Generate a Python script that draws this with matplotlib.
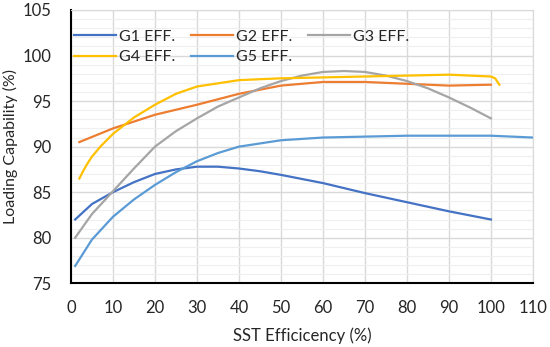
import matplotlib
matplotlib.use("Agg")
import matplotlib.pyplot as plt
from matplotlib.ticker import MultipleLocator

# %% Data
x_g1 = [1, 5, 10, 15, 20, 25, 30, 35, 40, 45, 50, 60, 70, 80, 90, 100]
g1 = [82.0, 83.7, 85.0, 86.1, 87.0, 87.5, 87.8, 87.8, 87.6, 87.3, 86.9, 86.0, 84.9, 83.9, 82.9, 82.0]

x_g2 = [2, 10, 20, 30, 40, 50, 60, 70, 80, 90, 100]
g2 = [90.5, 92.0, 93.5, 94.6, 95.8, 96.7, 97.1, 97.1, 96.9, 96.7, 96.8]

x_g3 = [1, 5, 10, 15, 20, 25, 30, 35, 40, 45, 50, 55, 60, 65, 70, 75, 80, 85, 90, 95, 100]
g3 = [80.0, 82.6, 85.1, 87.6, 90.0, 91.7, 93.1, 94.4, 95.4, 96.4, 97.2, 97.8, 98.2, 98.3,
      98.2, 97.8, 97.2, 96.4, 95.4, 94.3, 93.1]

x_g4 = [2, 3, 4, 5, 7, 10, 15, 20, 25, 30, 40, 50, 60, 70, 80, 90, 100, 101, 102]
g4 = [86.5, 87.4, 88.2, 88.9, 90.0, 91.4, 93.2, 94.6, 95.8, 96.6, 97.3, 97.5, 97.6, 97.7,
      97.8, 97.9, 97.7, 97.5, 96.8]

x_g5 = [1, 5, 10, 15, 20, 25, 30, 35, 40, 50, 60, 70, 80, 90, 100, 110]
g5 = [76.9, 79.8, 82.3, 84.2, 85.8, 87.2, 88.4, 89.3, 90.0, 90.7, 91.0, 91.1, 91.2, 91.2, 91.2, 91.0]

labels = ['G1 EFF.', 'G2 EFF.', 'G3 EFF.', 'G4 EFF.', 'G5 EFF.']
colors = ['#4472C4', '#ED7D31', '#A5A5A5', '#FFC000', '#5B9BD5']

# %% Plot
plt.rcParams['font.family'] = ['Lato', 'DejaVu Sans']
txt = '#262626'

fig = plt.figure(figsize=(5.5, 3.47), dpi=100)
ax = fig.add_axes([0.129, 0.1836, 0.84, 0.7876])

series = [(x_g1, g1), (x_g2, g2), (x_g3, g3), (x_g4, g4), (x_g5, g5)]
lines = []
for (xs, ys), lab, c in zip(series, labels, colors):
    ln, = ax.plot(xs, ys, color=c, lw=1.6, label=lab)
    lines.append(ln)

ax.set_xlim(0, 110)
ax.set_ylim(75, 105)
ax.xaxis.set_major_locator(MultipleLocator(10))
ax.yaxis.set_major_locator(MultipleLocator(5))
ax.yaxis.set_minor_locator(MultipleLocator(1))
ax.grid(which='major', color='#d9d9d9', lw=1.0)
ax.grid(which='minor', axis='y', color='#efefef', lw=0.8)
ax.set_axisbelow(True)
ax.tick_params(which='both', length=0, labelsize=12, colors=txt)
ax.tick_params(axis='x', pad=12)
ax.tick_params(axis='y', pad=14)

for s in ['top', 'right']:
    ax.spines[s].set_color('#d9d9d9')
for s in ['left', 'bottom']:
    ax.spines[s].set_color('#000000')
    ax.spines[s].set_linewidth(1.5)

ax.set_xlabel('SST Efficicency (%)', fontsize=12, color=txt, labelpad=8)
ax.set_ylabel('Loading Capability (%)', fontsize=11.5, color=txt)
ax.yaxis.set_label_coords(-0.115, 0.5)

# row-major legend order: G1 G2 G3 / G4 G5
order = [0, 3, 1, 4, 2]
ax.legend([lines[i] for i in order], [labels[i] for i in order],
          loc='upper left', bbox_to_anchor=(0.0, 0.94), ncol=3, frameon=False,
          fontsize=11.5, handlelength=2.6, handletextpad=0.2, columnspacing=1.0,
          labelspacing=0.4, borderaxespad=0, borderpad=0.2, labelcolor=txt)

fig.savefig('out.png', dpi=100)
